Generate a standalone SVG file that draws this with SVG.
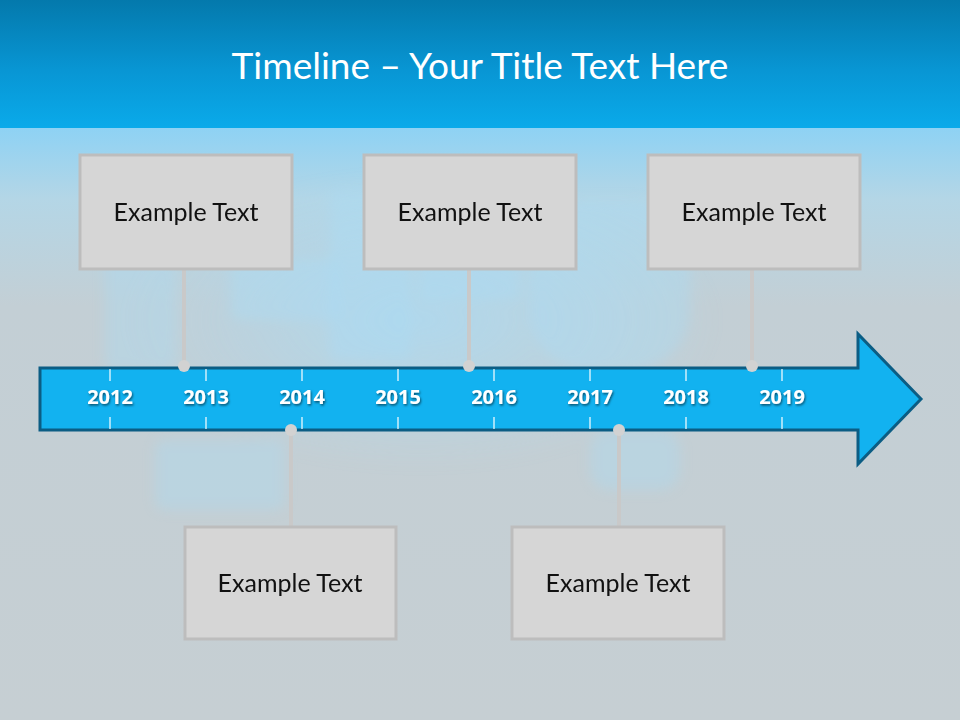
<svg xmlns="http://www.w3.org/2000/svg" width="960" height="720" viewBox="0 0 960 720">
  <defs>
    <linearGradient id="hdr" x1="0" y1="0" x2="0" y2="1">
      <stop offset="0" stop-color="#0479ac"/>
      <stop offset="0.55" stop-color="#0896d4"/>
      <stop offset="1" stop-color="#0aaaea"/>
    </linearGradient>
    <linearGradient id="bg" x1="0" y1="0" x2="0" y2="1">
      <stop offset="0" stop-color="#8ed2f4"/>
      <stop offset="0.12" stop-color="#b4d6e6"/>
      <stop offset="0.3" stop-color="#c3cfd5"/>
      <stop offset="1" stop-color="#c6cfd3"/>
    </linearGradient>
    <radialGradient id="glow" cx="0.5" cy="0.5" r="0.5">
      <stop offset="0" stop-color="#a8dcf6" stop-opacity="0.7"/>
      <stop offset="1" stop-color="#a8dcf6" stop-opacity="0"/>
    </radialGradient>
    <filter id="shadow" x="-20%" y="-20%" width="140%" height="160%">
      <feDropShadow dx="1" dy="1.5" stdDeviation="1" flood-color="#000" flood-opacity="0.55"/>
    </filter>
    <filter id="soft" x="-20%" y="-20%" width="140%" height="140%">
      <feGaussianBlur stdDeviation="6"/>
    </filter>
    <style>
      .title { font-family: Lato, "Open Sans", "Liberation Sans", sans-serif; font-size: 37px; fill: #ffffff; }
      .year { font-family: "Open Sans", "Liberation Sans", sans-serif; font-weight: bold; font-size: 20px; fill: #ffffff; text-anchor: middle; }
      .tick { stroke: #ffffff; stroke-width: 1.2; }
      .box { fill: #d6d6d6; stroke: #bdbdbd; stroke-width: 3; }
      .label { font-family: Lato, "Open Sans", "Liberation Sans", sans-serif; font-size: 25px; fill: #111111; text-anchor: middle; }
      .conn { stroke: #c9c9c9; stroke-width: 4; fill: none; }
      .dot { fill: #d2d2d2; }
      .deco { fill: #a9ddf7; opacity: 0.35; }
    </style>
  </defs>

  <!-- background -->
  <rect x="0" y="128" width="960" height="592" fill="url(#bg)"/>
  <g id="decor" filter="url(#soft)">
    <rect class="deco" x="105" y="250" width="70" height="120" rx="10"/>
    <rect class="deco" x="230" y="260" width="110" height="60" rx="8"/>
    <rect class="deco" x="155" y="440" width="130" height="70" rx="10"/>
    <rect class="deco" x="330" y="190" width="80" height="170" rx="6"/>
    <rect class="deco" x="420" y="240" width="100" height="60" rx="6"/>
    <rect class="deco" x="530" y="200" width="160" height="170" rx="60"/>
    <rect class="deco" x="590" y="430" width="90" height="60" rx="20"/>
    <ellipse cx="420" cy="320" rx="300" ry="150" fill="url(#glow)"/>
  </g>
  <rect x="0" y="0" width="960" height="128" fill="url(#hdr)"/>
  <text class="title" x="480" y="79" text-anchor="middle">Timeline – Your Title Text Here</text>

  <!-- timeline arrow -->
  <g id="arrow">
    <path d="M40,368 L858,368 L858,334 L921,399 L858,464 L858,430 L40,430 Z" fill="#12b2f0" stroke="#0b5d84" stroke-width="3" stroke-linejoin="miter"/>
    <g>
      <line class="tick" x1="110" y1="369" x2="110" y2="381"/><line class="tick" x1="110" y1="417" x2="110" y2="429"/>
      <line class="tick" x1="206" y1="369" x2="206" y2="381"/><line class="tick" x1="206" y1="417" x2="206" y2="429"/>
      <line class="tick" x1="302" y1="369" x2="302" y2="381"/><line class="tick" x1="302" y1="417" x2="302" y2="429"/>
      <line class="tick" x1="398" y1="369" x2="398" y2="381"/><line class="tick" x1="398" y1="417" x2="398" y2="429"/>
      <line class="tick" x1="494" y1="369" x2="494" y2="381"/><line class="tick" x1="494" y1="417" x2="494" y2="429"/>
      <line class="tick" x1="590" y1="369" x2="590" y2="381"/><line class="tick" x1="590" y1="417" x2="590" y2="429"/>
      <line class="tick" x1="686" y1="369" x2="686" y2="381"/><line class="tick" x1="686" y1="417" x2="686" y2="429"/>
      <line class="tick" x1="782" y1="369" x2="782" y2="381"/><line class="tick" x1="782" y1="417" x2="782" y2="429"/>
    </g>
    <g filter="url(#shadow)">
      <text class="year" x="110" y="404">2012</text>
      <text class="year" x="206" y="404">2013</text>
      <text class="year" x="302" y="404">2014</text>
      <text class="year" x="398" y="404">2015</text>
      <text class="year" x="494" y="404">2016</text>
      <text class="year" x="590" y="404">2017</text>
      <text class="year" x="686" y="404">2018</text>
      <text class="year" x="782" y="404">2019</text>
    </g>
  </g>

  <!-- connectors -->
  <g id="connectors">
    <line class="conn" x1="184" y1="270" x2="184" y2="366"/>
    <circle class="dot" cx="184" cy="366" r="6"/>
    <line class="conn" x1="469" y1="270" x2="469" y2="366"/>
    <circle class="dot" cx="469" cy="366" r="6"/>
    <line class="conn" x1="752" y1="270" x2="752" y2="366"/>
    <circle class="dot" cx="752" cy="366" r="6"/>
    <line class="conn" x1="291" y1="430" x2="291" y2="526"/>
    <circle class="dot" cx="291" cy="430" r="6"/>
    <line class="conn" x1="619" y1="430" x2="619" y2="526"/>
    <circle class="dot" cx="619" cy="430" r="6"/>
  </g>

  <!-- nodes -->
  <g id="node1">
    <rect class="box" x="80" y="155" width="212" height="114"/>
    <text class="label" x="186" y="221">Example Text</text>
  </g>
  <g id="node2">
    <rect class="box" x="364" y="155" width="212" height="114"/>
    <text class="label" x="470" y="221">Example Text</text>
  </g>
  <g id="node3">
    <rect class="box" x="648" y="155" width="212" height="114"/>
    <text class="label" x="754" y="221">Example Text</text>
  </g>
  <g id="node4">
    <rect class="box" x="185" y="527" width="211" height="112"/>
    <text class="label" x="290" y="592">Example Text</text>
  </g>
  <g id="node5">
    <rect class="box" x="512" y="527" width="212" height="112"/>
    <text class="label" x="618" y="592">Example Text</text>
  </g>
</svg>
